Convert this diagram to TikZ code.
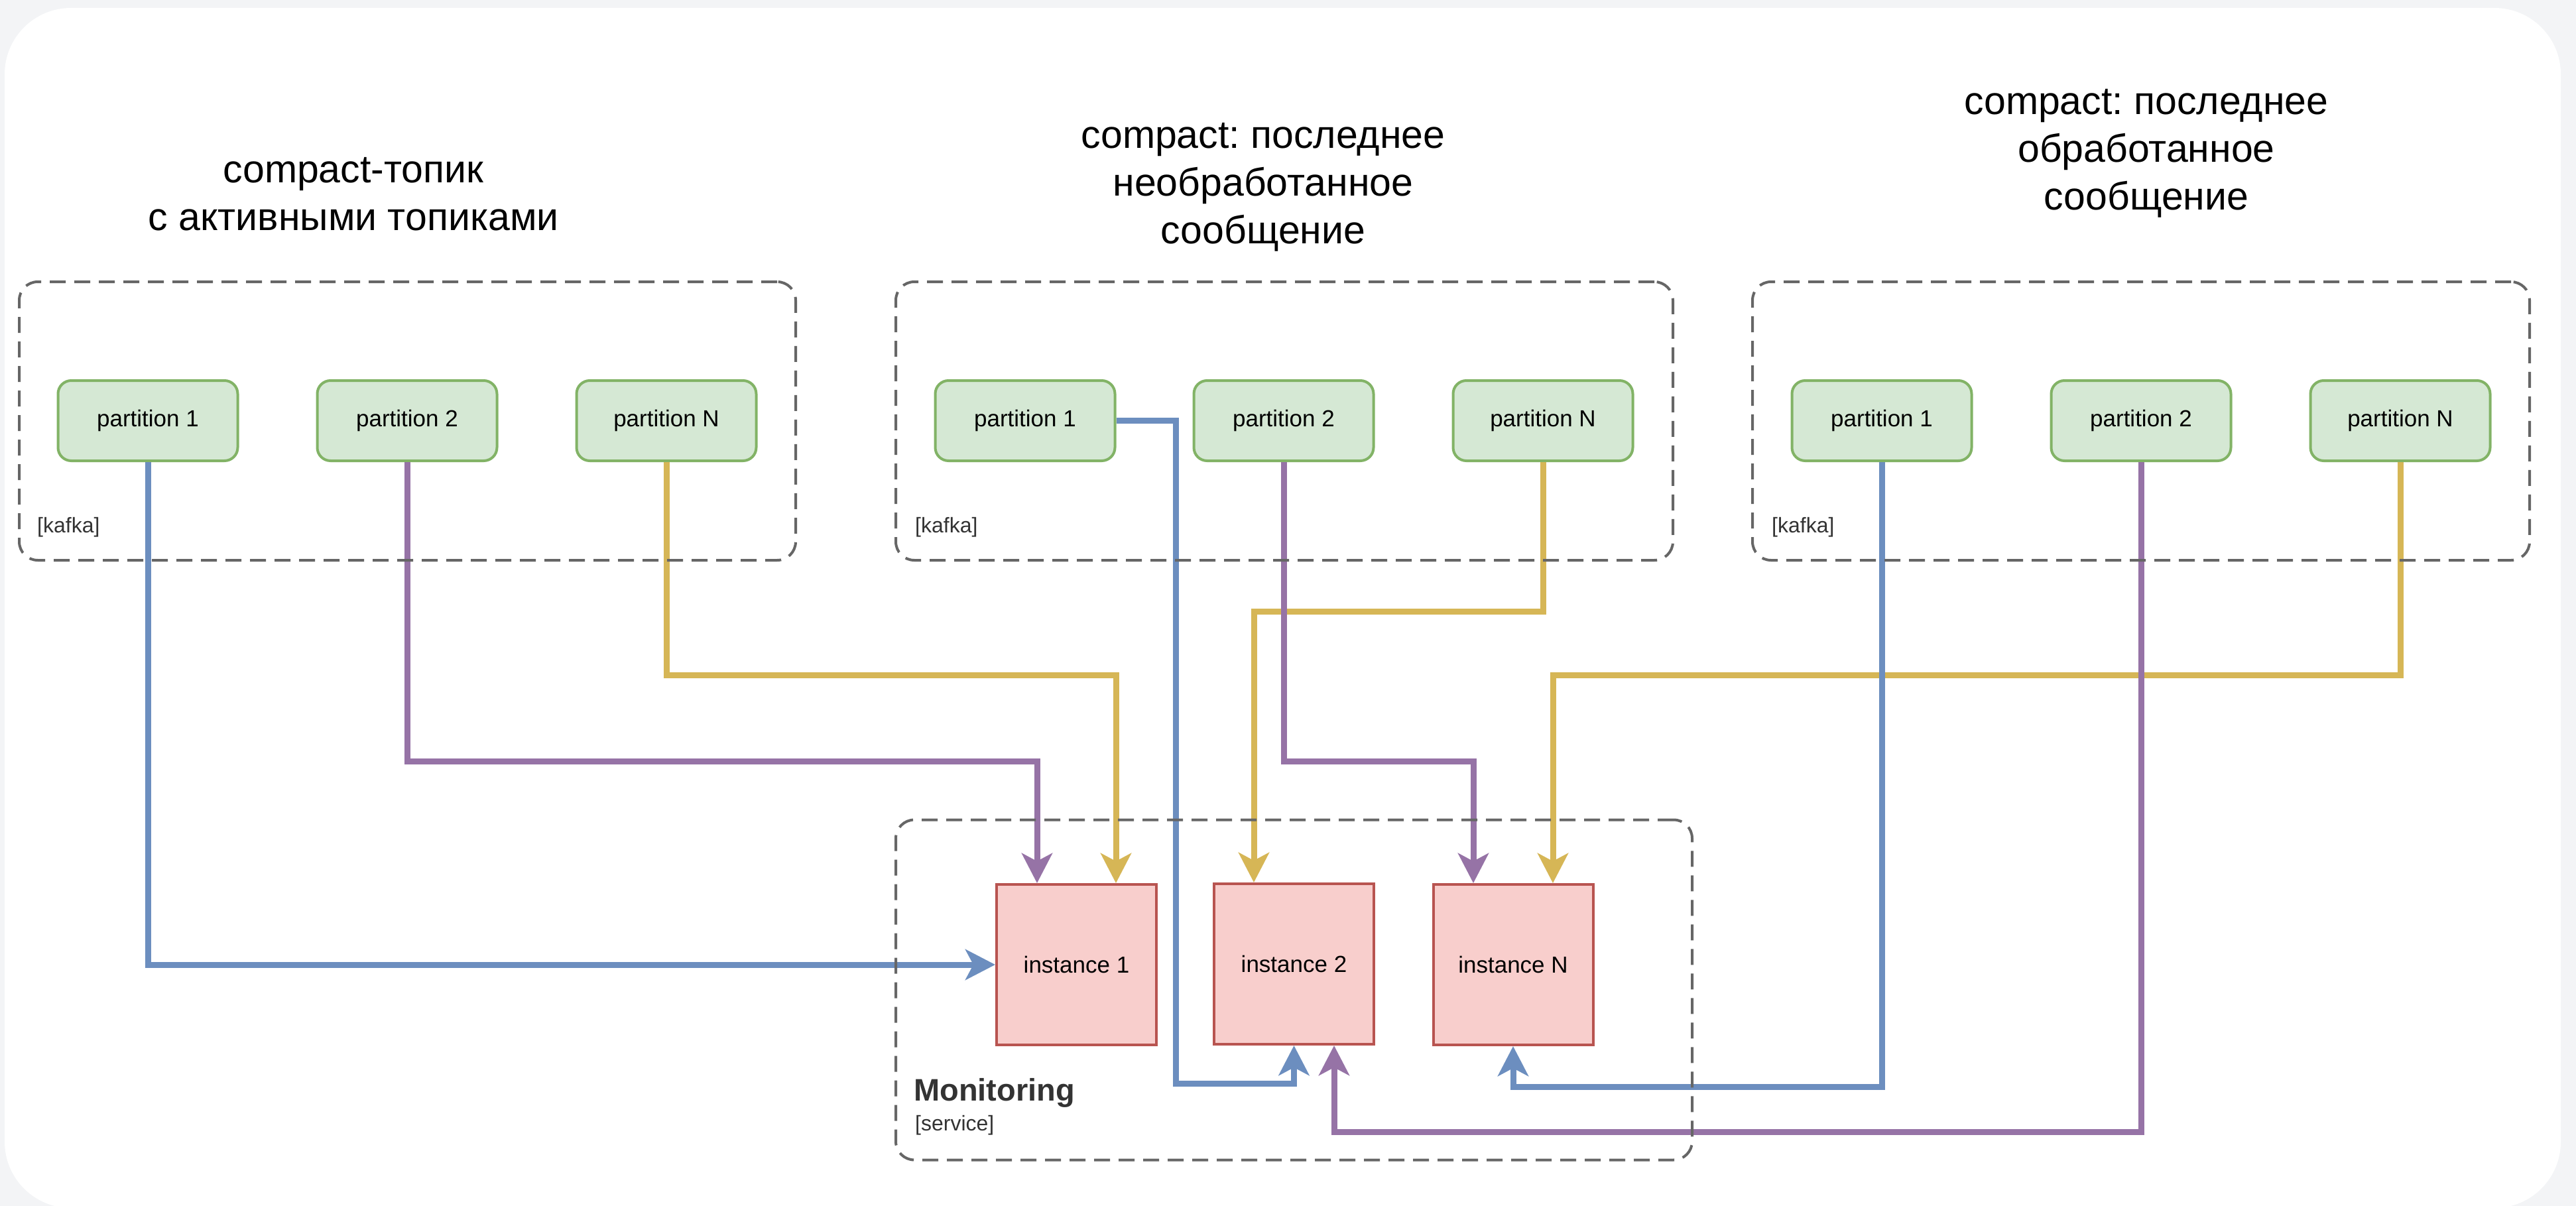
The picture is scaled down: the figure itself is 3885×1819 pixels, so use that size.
\documentclass[tikz,border=0pt]{standalone}
\usepackage{fontspec}
\setmainfont{Liberation Sans}
\usetikzlibrary{arrows.meta}
\frenchspacing

\definecolor{pageGray}{HTML}{F3F4F6}
\definecolor{groupLine}{HTML}{666666}
\definecolor{labelInk}{HTML}{333333}
\definecolor{partFill}{HTML}{D5E8D4}
\definecolor{partLine}{HTML}{82B366}
\definecolor{instFill}{HTML}{F8CECC}
\definecolor{instLine}{HTML}{B85450}
\definecolor{flowBlue}{HTML}{6C8EBF}
\definecolor{flowPurple}{HTML}{9673A6}
\definecolor{flowYellow}{HTML}{D6B656}

\begin{document}
\begin{tikzpicture}[x=1pt,y=-1pt,
  partbox/.style={draw=partLine, fill=partFill, line width=4pt, rounded corners=20pt,
    minimum width=271pt, minimum height=121pt, inner sep=0pt,
    font=\fontsize{35}{42}\selectfont},
  instbox/.style={draw=instLine, fill=instFill, line width=4pt,
    minimum width=241pt, minimum height=242pt, inner sep=0pt,
    font=\fontsize{35}{42}\selectfont},
  groupbox/.style={draw=groupLine, dash pattern=on 24pt off 13pt, line width=4pt,
    rounded corners=28pt, inner sep=0pt},
  grouplabel/.style={anchor=west, inner sep=0pt, text=labelInk,
    font=\fontsize{32}{38}\selectfont},
  titletext/.style={align=center, inner sep=0pt, font=\fontsize{59}{72}\selectfont},
  flow/.style={line width=9pt, -{Stealth[length=45pt,width=46pt,inset=12pt]}},
]
\useasboundingbox (0,0) rectangle (3885,1819);
\clip (0,0) rectangle (3885,1819);

% card background
\fill[pageGray] (0,0) rectangle (3885,1819);
\fill[white, rounded corners=100pt] (7,12) rectangle (3862,1822);

% titles
\node[titletext] (t1) at (533,293) {compact-топик\\с активными топиками};
\node[titletext] (t2) at (1905,282) {compact: последнее\\необработанное\\сообщение};
\node[titletext] (t3) at (3237,231) {compact: последнее\\обработанное\\сообщение};

% partitions
\node[partbox] (k1p1) at (223,634.5) {partition 1};
\node[partbox] (k1p2) at (614,634.5) {partition 2};
\node[partbox] (k1pN) at (1005,634.5) {partition N};
\node[partbox] (k2p1) at (1546,634.5) {partition 1};
\node[partbox] (k2p2) at (1936,634.5) {partition 2};
\node[partbox] (k2pN) at (2327,634.5) {partition N};
\node[partbox] (k3p1) at (2838,634.5) {partition 1};
\node[partbox] (k3p2) at (3229,634.5) {partition 2};
\node[partbox] (k3pN) at (3620,634.5) {partition N};

% service instances
\node[instbox] (i1) at (1623.5,1455) {instance 1};
\node[instbox] (i2) at (1951.5,1454) {instance 2};
\node[instbox] (iN) at (2282,1455) {instance N};

% yellow flows
\draw[flow, flowYellow] (k1pN.south) -- ++(0,321) -| ([xshift=59.5pt]i1.north);
\draw[flow, flowYellow] (k2pN.south) -- ++(0,225) -| ([xshift=-60.5pt]i2.north);
\draw[flow, flowYellow] (k3pN.south) -- ++(0,321) -| ([xshift=60pt]iN.north);

% purple flows
\draw[flow, flowPurple] (k1p2.south) -- ++(0,451) -| ([xshift=-59.5pt]i1.north);
\draw[flow, flowPurple] (k2p2.south) -- ++(0,451) -| ([xshift=-60pt]iN.north);
\draw[flow, flowPurple] (k3p2.south) -- ++(0,1010) -| ([xshift=60.5pt]i2.south);

% blue flows
\draw[flow, flowBlue] (k1p1.south) |- (i1.west);
\draw[flow, flowBlue] (k2p1.east) -| ++(90,1000) -| (i2.south);
\draw[flow, flowBlue] (k3p1.south) -- ++(0,942) -| (iN.south);

% containers
\node[groupbox, minimum width=1171pt, minimum height=420pt] (kafka1) at (614.5,635) {};
\node[groupbox, minimum width=1172pt, minimum height=420pt] (kafka2) at (1937,635) {};
\node[groupbox, minimum width=1172pt, minimum height=420pt] (kafka3) at (3229,635) {};
\node[groupbox, minimum width=1201pt, minimum height=513pt] (svc) at (1951.5,1493) {};

\node[grouplabel] (kl1) at (56,795) {[kafka]};
\node[grouplabel] (kl2) at (1380,795) {[kafka]};
\node[grouplabel] (kl3) at (2672,795) {[kafka]};
\node[anchor=west, inner sep=0pt, text=labelInk, font=\bfseries\fontsize{47}{56}\selectfont]
  (svcname) at (1378,1648) {Monitoring};
\node[grouplabel] (svctype) at (1380,1697) {[service]};
\end{tikzpicture}
\end{document}
